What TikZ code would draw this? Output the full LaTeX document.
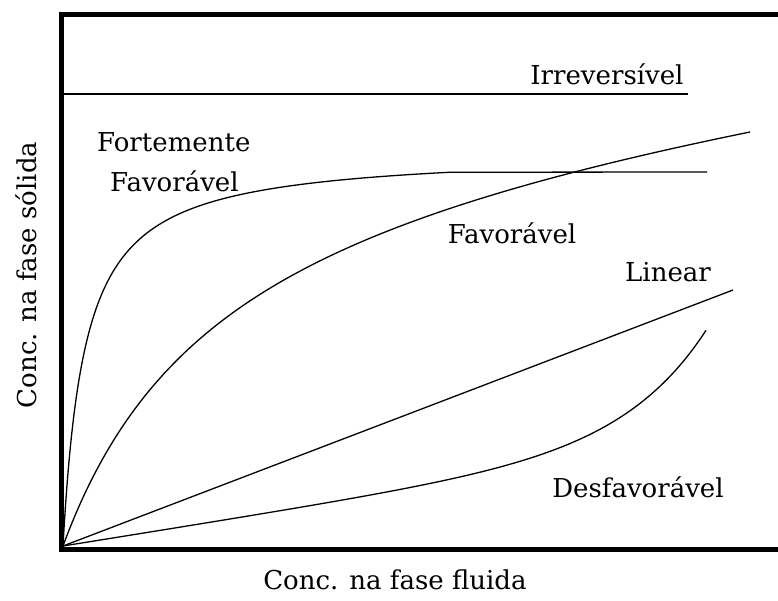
\documentclass[tikz,border=0pt]{standalone}
\usepackage{fontspec}
\setmainfont{DejaVu Serif}
\begin{document}
\begin{tikzpicture}[x=1pt,y=-1pt,
  curve/.style={line width=1.3pt, black, line join=round},
  frame/.style={line width=5pt, black},
  lbl/.style={inner sep=0pt, font=\fontsize{26}{30}\selectfont}]
\useasboundingbox (0,0) rectangle (778,601);
\fill[white] (0,0) rectangle (778,601);
% frame
\draw[frame] (790,14.5) -- (61,14.5) -- (61,549) -- (790,549);
% origin of the isotherms
\coordinate (O) at (63,546);
% irreversible
\coordinate (irrA) at (63,94);
\coordinate (irrB) at (688,94);
\draw[curve] (irrA) -- (irrB);
% strongly favourable
\coordinate (sfEnd) at (707,172);
\draw[curve] plot[domain=0:19.672, samples=160, variable=\t]
  ({63+\t*\t},{546-395*(\t*\t/(22+\t*\t))}) -- (sfEnd);
% favourable
\draw[curve] plot[domain=0:26.21, samples=160, variable=\t]
  ({63+\t*\t},{546-416.4*(\t*\t/(160+\t*\t))-0.111*\t*\t});
% linear
\coordinate (linEnd) at (733,290);
\draw[curve] (O) -- (linEnd);
% unfavourable
\draw[curve] plot[domain=0:643, samples=160, variable=\t]
  ({63+\t},{546-0.16*\t-0.0435*(exp(\t/81.8)-1)});
% labels
\node[lbl] (irr) at (607,74) {Irreversível};
\node[lbl, anchor=west] (forte) at (97,142) {Fortemente};
\node[lbl, anchor=west] (fav1) at (110,181) {Favorável};
\node[lbl] (fav2) at (512,233) {Favorável};
\node[lbl] (lin) at (668,272) {Linear};
\node[lbl] (desf) at (638,487) {Desfavorável};
\node[lbl] (xlab) at (395,580) {Conc. na fase fluida};
\node[lbl, rotate=90] (ylab) at (26,275) {Conc. na fase sólida};
\end{tikzpicture}
\end{document}
